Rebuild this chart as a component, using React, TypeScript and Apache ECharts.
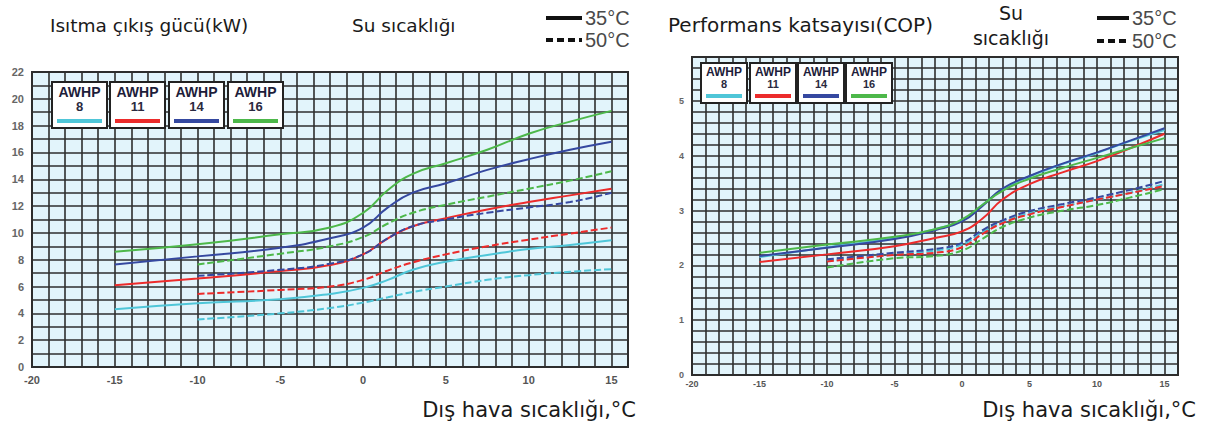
import React, { useEffect, useRef } from "react";
import * as echarts from "echarts";

// ---------- data ----------
const models = ["8", "11", "14", "16"];
const modelColors = ["#4fc6d8", "#ec2b2b", "#3548a0", "#4db84a"];

// Heating capacity (kW)
const capX35 = [-15, -10, -5, -2, 0, 1.5, 3, 5, 7.5, 10, 12.5, 15];
const cap8_35 = [4.3, 4.75, 5.05, 5.45, 5.9, 6.5, 7.25, 7.85, 8.35, 8.8, 9.1, 9.45];
const cap11_35 = [6.1, 6.6, 7.15, 7.6, 8.4, 9.6, 10.5, 11.1, 11.75, 12.3, 12.8, 13.3];
const cap14_35 = [7.65, 8.25, 8.9, 9.6, 10.4, 11.9, 13.0, 13.7, 14.7, 15.5, 16.2, 16.8];
const cap16_35 = [8.6, 9.15, 9.9, 10.4, 11.5, 13.2, 14.4, 15.2, 16.2, 17.4, 18.3, 19.1];

const capX50 = [-10, -5, -2, 0, 1.5, 3, 5, 7.5, 10, 12.5, 15];
const cap8_50 = [3.55, 4.0, 4.4, 4.8, 5.2, 5.6, 6.0, 6.5, 6.85, 7.1, 7.3];
const cap11_50 = [5.45, 5.75, 6.0, 6.5, 7.2, 7.8, 8.4, 9.0, 9.5, 9.95, 10.4];
const cap14_50 = [6.8, 7.25, 7.7, 8.4, 9.6, 10.5, 11.0, 11.5, 11.9, 12.3, 13.0];
const cap16_50 = [7.65, 8.45, 9.0, 9.7, 10.7, 11.5, 12.1, 12.7, 13.3, 13.9, 14.6];

// COP
const copX35 = [-15, -10, -5, -2, 0, 1.5, 3, 5, 7.5, 10, 12.5, 15];
const cop8_35 = [2.15, 2.33, 2.5, 2.66, 2.82, 3.1, 3.38, 3.62, 3.85, 4.05, 4.27, 4.47];
const cop11_35 = [2.06, 2.2, 2.35, 2.5, 2.62, 2.85, 3.2, 3.48, 3.7, 3.9, 4.14, 4.4];
const cop14_35 = [2.17, 2.32, 2.48, 2.64, 2.8, 3.08, 3.4, 3.63, 3.86, 4.06, 4.28, 4.5];
const cop16_35 = [2.23, 2.38, 2.52, 2.66, 2.84, 3.1, 3.36, 3.58, 3.78, 3.96, 4.14, 4.32];

const copX50 = [-10, -5, -2, 0, 1.5, 3, 5, 7.5, 10, 12.5, 15];
const cop8_50 = [2.08, 2.2, 2.27, 2.38, 2.6, 2.79, 2.95, 3.08, 3.2, 3.33, 3.48];
const cop11_50 = [2.07, 2.19, 2.23, 2.33, 2.57, 2.77, 2.93, 3.07, 3.2, 3.32, 3.45];
const cop14_50 = [2.11, 2.23, 2.3, 2.41, 2.64, 2.82, 2.99, 3.12, 3.24, 3.38, 3.54];
const cop16_50 = [1.96, 2.13, 2.17, 2.27, 2.48, 2.7, 2.87, 3.0, 3.1, 3.24, 3.39];

const xTickLabels = ["-20", "-15", "-10", "-5", "0", "5", "10", "15"];

// ---------- helpers ----------
const pairs = (xs: number[], ys: number[]) => xs.map((x, i) => [x, ys[i]]);

const GRID_BG = "#e2f4fb";
const LINE_DARK = "#2e2e2e";
const TITLE_FONT = "'DejaVu Sans', sans-serif";
const NARROW = "'Liberation Sans Narrow', 'Liberation Sans', sans-serif";

function makeSeries(idx: number, x35: number[], y35: number[][], x50: number[], y50: number[][]) {
  const out: any[] = [];
  y35.forEach((ys, i) => {
    out.push({
      type: "line",
      name: "AWHP " + models[i] + " 35",
      xAxisIndex: idx,
      yAxisIndex: idx,
      data: pairs(x35, ys),
      smooth: 0.5,
      showSymbol: false,
      symbol: "none",
      lineStyle: { color: modelColors[i], width: 2, type: "solid" },
      z: 5 + i,
    });
  });
  y50.forEach((ys, i) => {
    out.push({
      type: "line",
      name: "AWHP " + models[i] + " 50",
      xAxisIndex: idx,
      yAxisIndex: idx,
      data: pairs(x50, ys),
      smooth: 0.5,
      showSymbol: false,
      symbol: "none",
      lineStyle: { color: modelColors[i], width: 2, type: [7, 3] },
      z: 5 + i,
    });
  });
  return out;
}

function modelBoxes(
  xs: number[],
  y: number,
  w: number,
  h: number,
  fs1: number,
  fs2: number,
  yA: number,
  yN: number,
  yB: number
) {
  const els: any[] = [];
  xs.forEach((x, i) => {
    els.push({
      type: "rect",
      shape: { x, y, width: w, height: h },
      style: { fill: "#ffffff", stroke: "#222", lineWidth: 2 },
      z: 20,
    });
    els.push({
      type: "text",
      x: x + w / 2,
      y: y + yA,
      style: {
        text: "AWHP",
        fill: "#1d1d3a",
        font: `bold ${fs1}px 'Liberation Sans', Arial, sans-serif`,
        align: "center",
        verticalAlign: "middle",
      },
      z: 21,
    });
    els.push({
      type: "text",
      x: x + w / 2,
      y: y + yN,
      style: {
        text: models[i],
        fill: "#2a2a40",
        font: `bold ${fs2}px 'Liberation Sans', Arial, sans-serif`,
        align: "center",
        verticalAlign: "middle",
      },
      z: 21,
    });
    els.push({
      type: "rect",
      shape: { x: x + 5, y: y + yB, width: w - 10, height: 4 },
      style: { fill: modelColors[i] },
      z: 21,
    });
  });
  return els;
}

function tempLegend(x1: number, x2: number, y1: number, y2: number) {
  return [
    {
      type: "line",
      shape: { x1, y1, x2, y2: y1 },
      style: { stroke: "#111", lineWidth: 4 },
    },
    {
      type: "text",
      x: x2 + 3,
      y: y1,
      style: { text: "35°C", fill: "#4a4a4a", font: `20px ${NARROW}`, verticalAlign: "middle" },
    },
    {
      type: "line",
      shape: { x1, y1: y2, x2, y2 },
      style: { stroke: "#111", lineWidth: 4, lineDash: [7, 4] },
    },
    {
      type: "text",
      x: x2 + 3,
      y: y2,
      style: { text: "50°C", fill: "#4a4a4a", font: `20px ${NARROW}`, verticalAlign: "middle" },
    },
  ];
}

function txt(text: string, x: number, y: number, size: number, align = "left") {
  return {
    type: "text",
    x,
    y,
    style: {
      text,
      fill: "#1a1a1a",
      font: `${size}px ${TITLE_FONT}`,
      align,
      verticalAlign: "middle",
    },
  };
}

export default function App() {
  const ref = useRef<HTMLDivElement>(null);

  useEffect(() => {
    document.body.style.margin = "0";
    if (!ref.current) return;
    const chart = echarts.init(ref.current, undefined, { renderer: "svg" });

    const xLabel = (fs: number, margin: number) => ({
      fontSize: fs,
      color: "#555",
      fontFamily: "'Liberation Sans', Arial, sans-serif",
      fontWeight: "bold",
      margin,
      formatter: (v: number) => {
        const s = String(v);
        return xTickLabels.indexOf(s) >= 0 ? s : "";
      },
    });

    const split = { show: true, lineStyle: { color: LINE_DARK, width: 1.6 } };

    const option: any = {
      animation: false,
      grid: [
        {
          left: 32,
          top: 72,
          width: 596,
          height: 295,
          show: true,
          backgroundColor: GRID_BG,
          borderColor: LINE_DARK,
          borderWidth: 2,
          containLabel: false,
        },
        {
          left: 692,
          top: 57,
          width: 486,
          height: 318,
          show: true,
          backgroundColor: GRID_BG,
          borderColor: LINE_DARK,
          borderWidth: 2,
          containLabel: false,
        },
      ],
      xAxis: [
        {
          type: "value",
          gridIndex: 0,
          min: -20,
          max: 16,
          interval: 1,
          axisLine: { show: false },
          axisTick: { show: false },
          splitLine: split,
          axisLabel: xLabel(11, 7),
        },
        {
          type: "value",
          gridIndex: 1,
          min: -20,
          max: 16,
          interval: 1,
          axisLine: { show: false },
          axisTick: { show: false },
          splitLine: split,
          axisLabel: xLabel(9, 4),
        },
      ],
      yAxis: [
        {
          type: "value",
          gridIndex: 0,
          min: 0,
          max: 22,
          interval: 1,
          axisLine: { show: false },
          axisTick: { show: false },
          splitLine: split,
          axisLabel: {
            fontSize: 11,
            color: "#666",
            fontFamily: "'Liberation Sans', Arial, sans-serif",
            fontWeight: "bold",
            margin: 8,
            formatter: (v: number) => (Math.round(v) % 2 === 0 ? String(Math.round(v)) : ""),
          },
        },
        {
          type: "value",
          gridIndex: 1,
          min: 0,
          max: 5.8,
          interval: 0.2,
          axisLine: { show: false },
          axisTick: { show: false },
          splitLine: split,
          axisLabel: {
            fontSize: 9,
            color: "#666",
            fontFamily: "'Liberation Sans', Arial, sans-serif",
            fontWeight: "bold",
            margin: 8,
            formatter: (v: number) =>
              Math.abs(v - Math.round(v)) < 1e-6 ? String(Math.round(v)) : "",
          },
        },
      ],
      series: [
        ...makeSeries(0, capX35, [cap8_35, cap11_35, cap14_35, cap16_35], capX50, [cap8_50, cap11_50, cap14_50, cap16_50]),
        ...makeSeries(1, copX35, [cop8_35, cop11_35, cop14_35, cop16_35], copX50, [cop8_50, cop11_50, cop14_50, cop16_50]),
      ],
      graphic: [
        txt("Isıtma çıkış gücü(kW)", 50, 25, 18.5),
        txt("Su sıcaklığı", 352, 25, 18.5),
        txt("Performans katsayısı(COP)", 668, 25, 20),
        txt("Su", 1011, 13, 19, "center"),
        txt("sıcaklığı", 1011, 38, 19, "center"),
        txt("Dış hava sıcaklığı,°C", 636, 410, 21, "right"),
        txt("Dış hava sıcaklığı,°C", 1196, 410, 21, "right"),
        ...tempLegend(546, 582, 18, 40),
        ...tempLegend(1097, 1129, 18, 41),
        ...modelBoxes([52, 110, 169, 228], 82, 55, 46, 14, 13, 10, 24, 37),
        ...modelBoxes([701, 750, 798, 846], 63, 46, 40, 12, 11, 8.5, 20.5, 31),
      ],
    };

    chart.setOption(option);
    return () => chart.dispose();
  }, []);

  return <div ref={ref} style={{ width: 1209, height: 430 }} />;
}
